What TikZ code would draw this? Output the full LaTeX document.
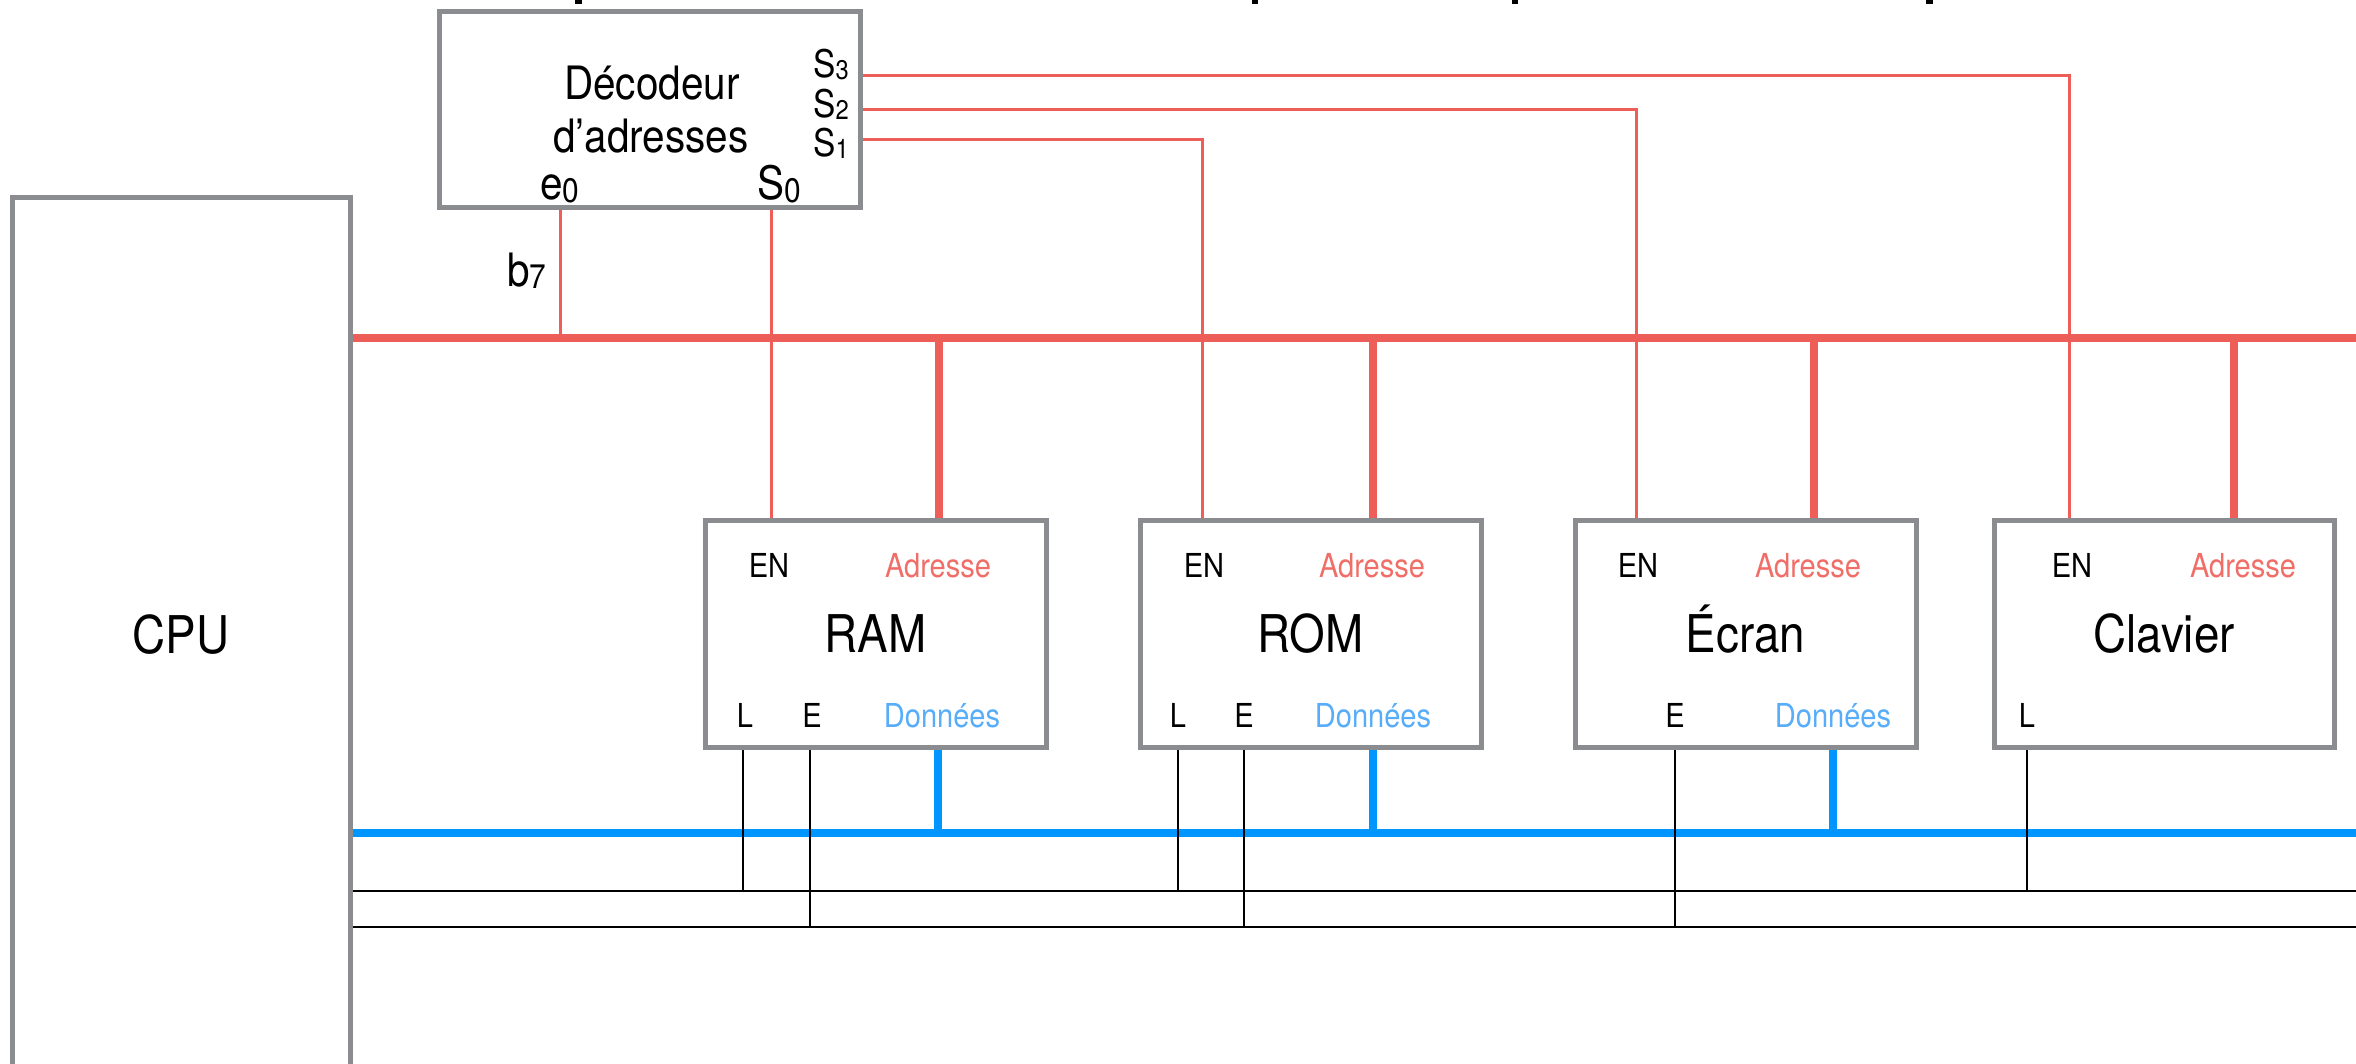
\documentclass[tikz,border=0pt]{standalone}
\usepackage{fontspec}
\setmainfont{TeX Gyre Heros}[FakeStretch=0.88]
\usetikzlibrary{calc}
\pgfdeclarelayer{bg}
\pgfsetlayers{bg,main}
\definecolor{busred}{RGB}{238,94,89}
\definecolor{txtred}{RGB}{241,110,104}
\definecolor{busblue}{RGB}{0,150,255}
\definecolor{txtblue}{RGB}{88,173,250}
\definecolor{boxgray}{RGB}{138,140,144}
\newcommand\lsub[3]{\raisebox{-#2}{\fontsize{#1}{#1}\selectfont #3}}
\begin{document}
\begin{tikzpicture}[x=0.5pt,y=-0.5pt,
 box/.style={draw=boxgray,line width=2.5pt,fill=white,inner sep=0pt},
 bigname/.style={font=\fontsize{26}{30}\selectfont,text height=19pt,text depth=0pt},
 dev/.style={box,bigname,minimum width=170.5pt,minimum height=113.5pt},
 portlab/.style={inner sep=0pt,anchor=base,font=\fontsize{16.5}{18}\selectfont},
 enlab/.style={portlab,text=black},
 adrlab/.style={portlab,text=txtred},
 datlab/.style={portlab,text=txtblue},
 declab/.style={inner sep=0pt,anchor=base,font=\fontsize{23}{26}\selectfont},
 slab/.style={inner sep=0pt,anchor=base west,font=\fontsize{19}{20}\selectfont},
 pinlab/.style={inner sep=0pt,anchor=base,font=\fontsize{23}{25}\selectfont},
 abus/.style={draw=busred,line width=4pt},
 sig/.style={draw=busred,line width=1.5pt},
 dbus/.style={draw=busblue,line width=4pt},
 ctl/.style={draw=black,line width=1.3pt},
 frag/.style={fill=black}
]
\useasboundingbox (0,0) rectangle (2356,1064);

% boxes
\node[box,bigname,minimum width=169.25pt,minimum height=436.5pt] (cpu) at (181.25,634) {CPU};
\node[box,minimum width=210.5pt,minimum height=98pt] (dec) at (650,109.5) {};
\node[dev] (ram) at (875.5,633.5) {RAM};
\node[dev] (rom) at (1310.5,633.5) {ROM};
\node[dev] (ecran) at (1745.5,633.5) {Écran};
\node[dev,minimum width=170pt] (clavier) at (2164,633.5) {Clavier};

% decoder texts
\node[declab] (dec1) at (652,100) {Décodeur};
\node[declab] (dec2) at (651,153) {d’adresses};
\node[slab] (s3) at (813,78) {S\lsub{13.5}{1pt}{3}};
\node[slab] (s2) at (813,118) {S\lsub{13.5}{1pt}{2}};
\node[slab] (s1) at (813,157) {S\lsub{13.5}{1pt}{1}};
\node[pinlab] (e0) at (560,200) {e\lsub{17}{1.5pt}{0}};
\node[pinlab] (s0) at (779,200) {S\lsub{17}{1.5pt}{0}};
\node[pinlab,anchor=base west] (b7) at (507,286) {b\lsub{17}{1.5pt}{7}};

% device port labels
\node[enlab] (ramEN) at (769,577) {EN};
\node[adrlab] (ramAd) at (938,577) {Adresse};
\node[enlab] (ramL) at (745,727) {L};
\node[enlab] (ramE) at (812,727) {E};
\node[datlab] (ramD) at (942,727) {Données};

\node[enlab] (romEN) at (1204,577) {EN};
\node[adrlab] (romAd) at (1372,577) {Adresse};
\node[enlab] (romL) at (1178,727) {L};
\node[enlab] (romE) at (1244,727) {E};
\node[datlab] (romD) at (1373,727) {Données};

\node[enlab] (ecrEN) at (1638,577) {EN};
\node[adrlab] (ecrAd) at (1808,577) {Adresse};
\node[enlab] (ecrE) at (1675,727) {E};
\node[datlab] (ecrD) at (1833,727) {Données};

\node[enlab] (clvEN) at (2072,577) {EN};
\node[adrlab] (clvAd) at (2243,577) {Adresse};
\node[enlab] (clvL) at (2027,727) {L};

% cropped title fragments at the top edge
\fill[frag] (575,0) rectangle (582,4);
\fill[frag] (1252,0) rectangle (1258,4);
\fill[frag] (1512,0) rectangle (1518,4);
\fill[frag] (1926,0) rectangle (1933,4);

\begin{pgfonlayer}{bg}
% bus ends
\coordinate (aW) at (cpu.east |- 0,338);
\coordinate (aE) at (2362,338);
\coordinate (dW) at (cpu.east |- 0,833);
\coordinate (dE) at (2362,833);
\coordinate (lW) at (cpu.east |- 0,891);
\coordinate (lE) at (2362,891);
\coordinate (eW) at (cpu.east |- 0,927);
\coordinate (eE) at (2362,927);

\draw[abus] (aW) -- (aE);
\draw[dbus] (dW) -- (dE);

% decoder signals
\coordinate (s3o) at (dec.east |- 0,76);
\coordinate (s2o) at (dec.east |- 0,110);
\coordinate (s1o) at (dec.east |- 0,140);
\draw[sig] (s3o) -| ($(clavier.north west)+(78,0)$);
\draw[sig] (s2o) -| ($(ecran.north west)+(64,0)$);
\draw[sig] (s1o) -| ($(rom.north west)+(65,0)$);
\draw[sig] (dec.south -| 771,0) -- (ram.north -| 771,0);
\draw[sig] (dec.south -| 560,0) -- (aW -| 560,0);

% address stubs
\draw[abus] (aW -| 939,0) -- (ram.north -| 939,0);
\draw[abus] (aW -| 1373,0) -- (rom.north -| 1373,0);
\draw[abus] (aW -| 1814,0) -- (ecran.north -| 1814,0);
\draw[abus] (aW -| 2234,0) -- (clavier.north -| 2234,0);

% data stubs
\draw[dbus] (ram.south -| 938,0) -- (dW -| 938,0);
\draw[dbus] (rom.south -| 1373,0) -- (dW -| 1373,0);
\draw[dbus] (ecran.south -| 1833,0) -- (dW -| 1833,0);

% control lines
\draw[ctl] (lW) -- (lE);
\draw[ctl] (eW) -- (eE);
\draw[ctl] (ram.south -| 743,0) -- (lW -| 743,0);
\draw[ctl] (ram.south -| 810,0) -- (eW -| 810,0);
\draw[ctl] (rom.south -| 1178,0) -- (lW -| 1178,0);
\draw[ctl] (rom.south -| 1244,0) -- (eW -| 1244,0);
\draw[ctl] (ecran.south -| 1675,0) -- (eW -| 1675,0);
\draw[ctl] (clavier.south -| 2027,0) -- (lW -| 2027,0);
\end{pgfonlayer}
\end{tikzpicture}
\end{document}
